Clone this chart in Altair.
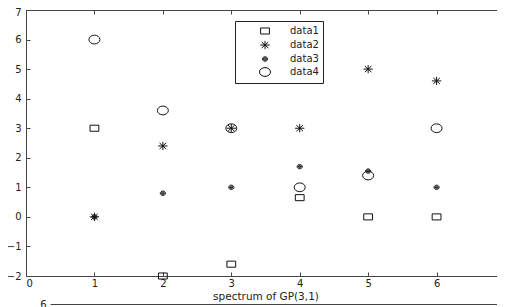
import altair as alt
import pandas as pd

# ---- data ----
x_vals = [1, 2, 3, 4, 5, 6]
series_names = ["data1", "data2", "data3", "data4"]
data1 = [3, -2, -1.6, 0.65, 0, 0]
data2 = [0, 2.4, 3, 3, 5, 4.6]
data3 = [0, 0.8, 1, 1.7, 1.55, 1]
data4 = [6, 3.6, 3, 1, 1.4, 3]
x_ticks = [0, 1, 2, 3, 4, 5, 6, 7]
y_ticks = [-2, -1, 0, 1, 2, 3, 4, 5, 6, 7]
x_title = "spectrum of GP(3,1)"
next_panel_ticks = [6]   # top label of the next (cut-off) subplot

rows = []
for name, vals in zip(series_names, [data1, data2, data3, data4]):
    for xv, yv in zip(x_vals, vals):
        rows.append({"x": xv, "y": yv, "series": name})
df = pd.DataFrame(rows)

W, H = 471, 266      # visible plot width (page is cut off at the right)
XR = 479             # full x range: the right part of the frame lies off-page
NEXT_TOP = 294       # top edge of the next subplot, below this one
FONT = "DejaVu Sans"
INK = "#111111"
FRAME = "#444444"
TXT = "#222222"
SYM = 121  # common symbol size; shapes are scaled inside the paths

sq = "M-0.8,-0.55H0.8V0.55H-0.8Z"
star = "M-0.85,0L0.85,0M0,-0.75L0,0.75M-0.6,-0.55L0.6,0.55M-0.6,0.55L0.6,-0.55"
dot = ("M-0.47,0A0.47,0.4 0 1,1 0.47,0A0.47,0.4 0 1,1 -0.47,0Z"
       "M-0.28,0A0.28,0.22 0 1,1 0.28,0A0.28,0.22 0 1,1 -0.28,0Z"
       "M-0.3,0L0.3,0")
ell = "M-1,0A1,0.8 0 1,1 1,0A1,0.8 0 1,1 -1,0Z"

xs = alt.Scale(domain=[0, 7], nice=False, zero=False, range=[0, XR])
ys = alt.Scale(domain=[-2, 7], nice=False, zero=False)

leg = alt.Legend(
    title=None, orient="none", legendX=209, legendY=11,
    strokeColor="#222222", fillColor="white", padding=4,
    symbolOffset=20, labelOffset=19, rowPadding=1,
    symbolSize=SYM, symbolStrokeColor=INK, symbolStrokeWidth=1,
    symbolFillColor="transparent",
    labelFont=FONT, labelFontSize=10, labelColor=TXT,
)

points = alt.Chart(df).mark_point(
    filled=False, strokeWidth=1, opacity=1, size=SYM, color=INK, fill="transparent"
).encode(
    x=alt.X("x:Q", scale=xs, axis=alt.Axis(
        orient="bottom", values=x_ticks, title=x_title, ticks=False,
        domain=True, domainColor=FRAME, domainWidth=1,
        grid=False, labelPadding=2, labelFont=FONT, labelFontSize=10,
        labelColor=TXT, titleFont=FONT, titleFontSize=10.5, titleFontWeight="normal",
        titleColor=TXT, titleBaseline="alphabetic", titleY=23)),
    y=alt.Y("y:Q", scale=ys, axis=alt.Axis(
        orient="left", values=y_ticks, title=None, ticks=False,
        domain=True, domainColor=FRAME, domainWidth=1,
        grid=False, labelPadding=5, labelFont=FONT, labelFontSize=10,
        labelColor=TXT,
        labelOffset={"condition": {"test": "datum.value === 7", "value": 2.5}, "value": 0})),
    shape=alt.Shape("series:N", scale=alt.Scale(domain=series_names, range=[sq, star, dot, ell]), legend=leg),
)

tick_axis = dict(labels=False, domain=False, ticks=True, tickSize=4, tickColor=FRAME,
                 tickWidth=1, title=None, grid=False)

# inward ticks: bottom edge (top-oriented axis moved down) and left edge
inner1 = alt.Chart(df).mark_point(opacity=0).encode(
    x=alt.X("x:Q", scale=xs, axis=alt.Axis(orient="top", offset=-H, values=x_ticks, **tick_axis)),
    y=alt.Y("y:Q", scale=ys, axis=alt.Axis(orient="right", offset=-W, values=y_ticks, **tick_axis)),
)
# top edge: frame line
inner2 = alt.Chart(df).mark_point(opacity=0).encode(
    x=alt.X("x:Q", scale=xs, axis=alt.Axis(orient="top", values=x_ticks, labels=False,
                                            ticks=False, domain=True, domainColor=FRAME,
                                            domainWidth=1, title=None, grid=False)),
)
# top edge: inward ticks
inner3 = alt.Chart(df).mark_point(opacity=0).encode(
    x=alt.X("x:Q", scale=xs, axis=alt.Axis(orient="bottom", offset=-H, values=x_ticks, **tick_axis)),
)
# top edge of the next subplot (cut off by the page bottom)
nxt = alt.Chart(df).mark_point(opacity=0).encode(
    x=alt.X("x:Q", scale=alt.Scale(domain=[0, 7], nice=False, zero=False, range=[24, 477]),
            axis=alt.Axis(orient="top", offset=-NEXT_TOP, labels=False, ticks=False,
                          domain=True, domainColor=FRAME, domainWidth=1, title=None, grid=False)),
    y=alt.Y("y:Q", scale=alt.Scale(domain=[6, -2], nice=False, zero=False,
                                   range=[NEXT_TOP, NEXT_TOP + 200]),
            axis=alt.Axis(orient="left", offset=-24, values=next_panel_ticks, ticks=False,
                          domain=False, title=None, grid=False, labelPadding=4,
                          labelFont=FONT, labelFontSize=10, labelColor=TXT)),
)

chart = alt.layer(points, inner1, inner2, inner3, nxt).resolve_scale(
    x="independent", y="independent"
).properties(
    width=W, height=H,
    autosize=alt.AutoSizeParams(type="none"),
    padding={"left": 18, "top": 2, "right": 0, "bottom": 31},
    background="white",
).configure_view(stroke=None)

chart.save("out.html", embed_options={"renderer": "svg", "actions": False})
